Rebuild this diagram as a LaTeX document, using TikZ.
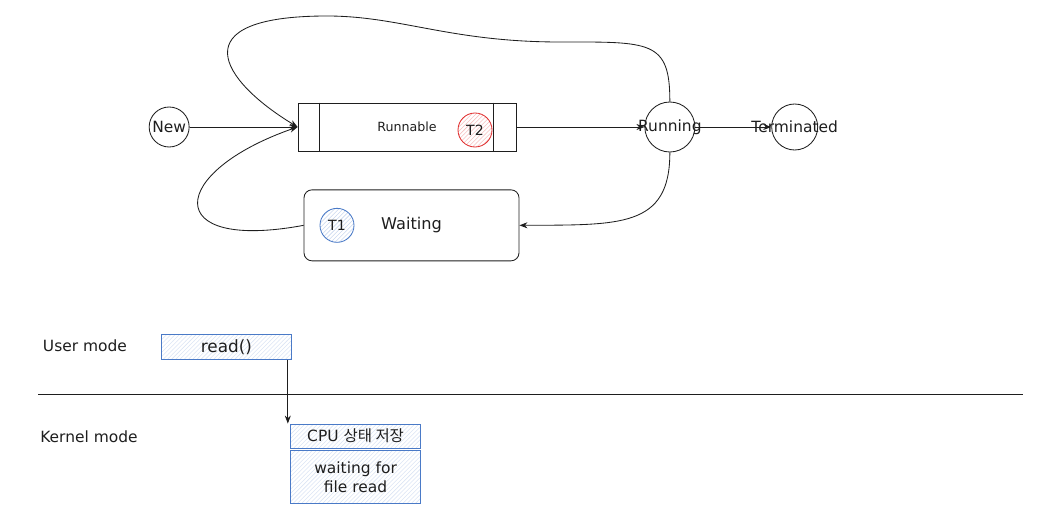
\documentclass[tikz,border=0pt]{standalone}
\usepackage{fontspec}
\setmainfont{DejaVu Sans}
\newfontfamily\krfont{Noto Sans CJK KR}
\usetikzlibrary{arrows.meta}
\usetikzlibrary{positioning}
\usetikzlibrary{calc}
\usetikzlibrary{patterns}

\definecolor{inkblack}{HTML}{1E1E1E}
\definecolor{sketchred}{HTML}{E03131}
\definecolor{sketchblue}{HTML}{4A7AC7}

\begin{document}
\begin{tikzpicture}[inkblack]
  \tikzset{node distance=2mm,
           state/.style={circle,draw,semithick,minimum size=#1,inner sep=0pt},
           every label/.style={font=\fontsize{11}{13}\selectfont},
           thread/.style={circle,draw=#1,semithick,minimum size=8.5mm,inner sep=0pt,
                          pattern=north east lines,pattern color=#1!30,
                          font=\fontsize{10}{12}\selectfont},
           queuebox/.style={draw,semithick,minimum width=#1},
           modebox/.style={draw=sketchblue,semithick,minimum width=3.25cm,align=center,
                           pattern=north east lines,pattern color=sketchblue!20,
                           font=\fontsize{11}{13}\selectfont},
           modelabel/.style={font=\fontsize{11}{13}\selectfont},
           flow/.style={->,>={Stealth[length=2mm]},semithick}}
  \useasboundingbox (0,0) rectangle (26.3,-12.85);

  % thread states
  \node[queuebox=5.45cm,minimum height=12mm,font=\fontsize{9}{11}\selectfont] (runnable) at (10.175,-3.175) {Runnable};
  \draw[semithick] ([xshift=5.5mm]runnable.north west) -- ([xshift=5.5mm]runnable.south west);
  \draw[semithick] ([xshift=-5.8mm]runnable.north east) -- ([xshift=-5.8mm]runnable.south east);
  \node[thread=sketchred] (t2) at (11.875,-3.25) {T2};

  \node[state=10mm,label=center:New,left=27mm of runnable] (new) {};
  \node[state=12.5mm,label=center:Running,right=32mm of runnable] (running) {};
  \node[state=11.5mm,label=center:Terminated,right=19mm of running] (terminated) {};

  \node[queuebox=5.375cm,minimum height=17.75mm,rounded corners=2mm,
        font=\fontsize{11.5}{13}\selectfont,below right=9.5mm and 1.5mm of runnable.south west] (waiting) {Waiting};
  \node[thread=sketchblue,right=4mm of waiting.west] (t1) {T1};

  \draw[flow] (new.east) -- (runnable.west);
  \draw[flow] (runnable.east) -- (running.west);
  \draw[flow] (running.east) -- (terminated.west);
  \draw[flow] (running.north) .. controls (16.75,-1.0) and (16.25,-1.05) .. (14,-1.05)
                              .. controls (11.25,-1.05) and (10,-0.4) .. (8.175,-0.4)
                              .. controls (4.5,-0.4) and (5.5,-2.0) .. (runnable.west);
  \draw[flow] (running.south) .. controls (16.75,-5.7) and (15.5,-5.62) .. (waiting.east);
  \draw[flow] (waiting.west) .. controls (4.0,-6.3) and (4.2,-4.3) .. (runnable.west);

  % user / kernel mode
  \node[modelabel] (usermode) at (2.125,-8.65) {User mode};
  \node[modebox,minimum height=5.5mm,font=\fontsize{12}{14}\selectfont] (read) at (5.66,-8.675) {read()};
  \coordinate (divleft) at (0.95,-9.85);
  \coordinate (divright) at (25.575,-9.85);
  \draw (divleft) -- (divright);
  \node[modelabel] (kernelmode) at (2.225,-10.925) {Kernel mode};
  \node[modebox,minimum height=6mm] (cpusave) at (8.89,-10.9) {CPU {\krfont 상태 저장}};
  \node[modebox,minimum height=13.25mm,below=0.5mm of cpusave] (fileread) {waiting for\\file read};

  \draw[flow] ([xshift=-1mm]read.south east) -- ([xshift=-1mm]read.south east |- cpusave.north);
\end{tikzpicture}
\end{document}
